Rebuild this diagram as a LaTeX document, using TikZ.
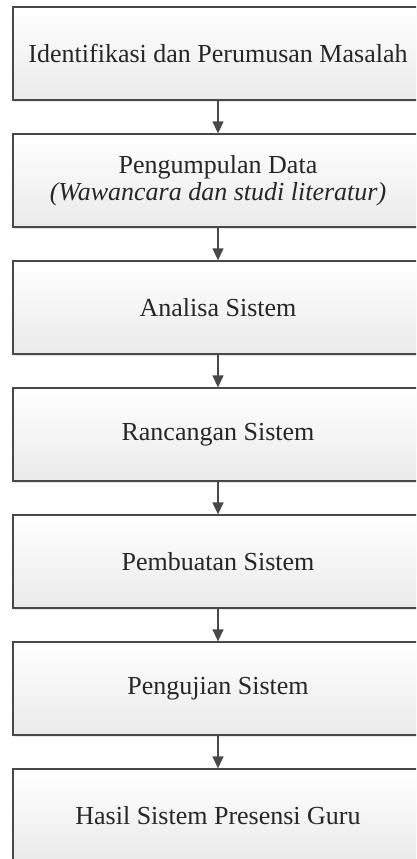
\documentclass[tikz,border=0pt]{standalone}
\usepackage{fontspec}
\setmainfont{Liberation Serif}
\usepackage{tikz}
\usetikzlibrary{arrows.meta}
\usetikzlibrary{shadows}
\definecolor{ColLine}{RGB}{72,72,72}
\definecolor{ColText}{RGB}{38,38,38}
\definecolor{ColFill}{RGB}{234,234,234}
\tikzstyle{NodeBox}=[rectangle,draw=ColLine,line width=1.3pt,top color=white,bottom color=ColFill,
drop shadow={shadow xshift=0.5pt,shadow yshift=-2pt,opacity=.2},
minimum width=410pt,minimum height=93pt,inner sep=0pt,align=center,text=ColText,
font=\fontsize{26}{27.5}\selectfont]
\tikzstyle{EdgeArrow}=[ColLine,line width=1.3pt,-{Triangle[length=12pt,width=11pt]}]
\begin{document}
\begin{tikzpicture}[x=1pt,y=-1pt]
        \clip(0,0)rectangle(416,859);
        \node[NodeBox](a)at(218,53.5){Identifikasi dan Perumusan Masalah};
        \node[NodeBox](b)at(218,180.5){Pengumpulan Data\\\textit{(Wawancara dan studi literatur)}};
        \node[NodeBox](c)at(218,307.5){Analisa Sistem};
        \node[NodeBox](d)at(218,434.5){Rancangan Sistem};
        \node[NodeBox](e)at(218,561.5){Pembuatan Sistem};
        \node[NodeBox](f)at(218,688.5){Pengujian Sistem};
        \node[NodeBox](g)at(218,815.5){Hasil Sistem Presensi Guru};
        \draw[EdgeArrow](a)--(b);
        \draw[EdgeArrow](b)--(c);
        \draw[EdgeArrow](c)--(d);
        \draw[EdgeArrow](d)--(e);
        \draw[EdgeArrow](e)--(f);
        \draw[EdgeArrow](f)--(g);
    \end{tikzpicture}
\end{document}
